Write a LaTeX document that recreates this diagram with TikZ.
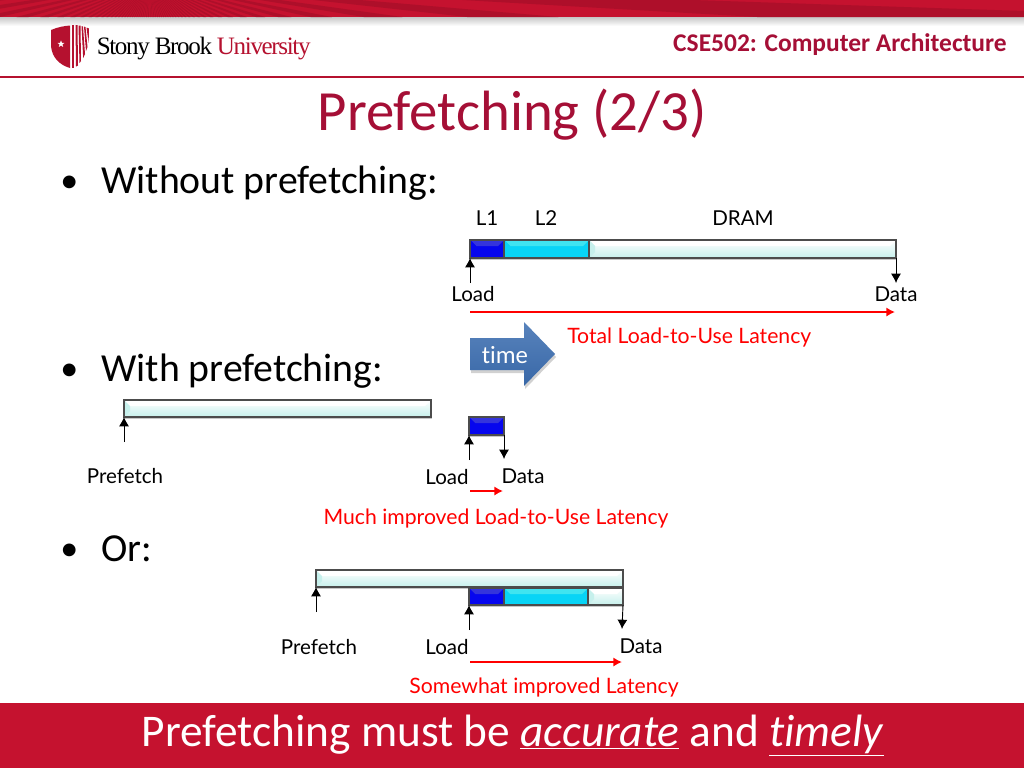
\documentclass[tikz,border=0pt]{standalone}
\usepackage{fontspec}
\setmainfont[Ligatures=CommonOff]{Carlito}
\newfontfamily\gill{Lato}
\newfontfamily\logofont{Liberation Serif}
\usetikzlibrary{arrows.meta,shapes.geometric,calc}
\definecolor{sbred}{HTML}{B5112F}
\definecolor{bandred}{HTML}{C5122F}
\definecolor{raydark}{HTML}{AE0F2A}
\definecolor{titlered}{HTML}{A50F36}
\definecolor{pale}{HTML}{C6F0EC}
\definecolor{cyanb}{HTML}{08D4F6}
\definecolor{cyant}{HTML}{3FE4F0}
\definecolor{navy}{HTML}{0606EE}
\definecolor{bluet}{HTML}{3434DC}
\definecolor{arrowblue}{HTML}{3B6DB0}
\tikzset{
  x=0.75pt,y=-0.75pt,
  barbox/.style={draw=black!70,line width=.8pt,inner sep=0pt,outer sep=0pt,anchor=north west},
  pal/.style={barbox,top color=white,bottom color=pale},
  ctwo/.style={barbox,fill=cyanb},
  cone/.style={barbox,fill=navy},
  blackarr/.style={draw=black,line width=.7pt,-{Latex[length=7pt,width=7.5pt]}},
  redarr/.style={draw=red,line width=2pt,-{Latex[length=6.5pt,width=7pt]}},
  lab/.style={font=\gill\fontsize{15.4}{18}\selectfont,text=black,inner sep=0pt},
  redlab/.style={font=\gill\fontsize{15.9}{18}\selectfont,text=red,inner sep=0pt},
  bul/.style={font=\fontsize{29.8}{34}\selectfont,text=black,inner sep=0pt,anchor=base west},
}
% name, x1, y1, x2, y2, style, bevel colour, left-triangle colour
\newcommand{\barbox}[8]{%
  \fill[black!22] (#2+1,#5) rectangle (#4+1,#5+2.4);
  \node[#6,minimum width={(#4-#2)*0.75pt},minimum height={(#5-#3)*0.75pt}] (#1) at (#2,#3) {};
  \fill[#7] (#2+.5,#3+.5) -- (#4-.5,#3+.5) -- (#4-6,#3+6) -- (#2+6,#3+6) -- cycle;
  \fill[#8] (#2+.5,#3+.5) -- (#2+6,#3+6) -- (#2+6,#5-6) -- (#2+.5,#5-.5) -- cycle;
  \draw[black!70,line width=.8pt] (#1.north west) rectangle (#1.south east);
}
\begin{document}
\begin{tikzpicture}
\useasboundingbox (0,0) rectangle (1024,768);
\fill[white] (0,0) rectangle (1024,768);
% top band
\shade[top color=black!22,bottom color=white] (0,17) rectangle (1024,26);
\fill[bandred] (0,0) rectangle (1024,17);
\begin{scope}
\clip (0,0) rectangle (1024,17);
\foreach \a in {0,3,...,174}{
  \pgfmathsetmacro{\ca}{cot(\a+1.9)}
  \pgfmathsetmacro{\cb}{cot(\a+3.3)}
  \fill[raydark] ({150+18*\ca},0) -- ({150+18*\cb},0) -- ({150+35*\cb},17) -- ({150+35*\ca},17) -- cycle;
}
\end{scope}
\draw[sbred,line width=.9pt] (0,77) -- (1024,77);
% logo
\fill[sbred] (51,30) .. controls (58,27) and (64,26) .. (70,25.5) -- (70,68) .. controls (60,65) and (52,58) .. (51,46) -- cycle;
\fill[sbred] (72,25) -- (74,25) -- (74,68) -- (72,68) -- cycle;
\fill[sbred] (75.5,25) -- (77.5,25) -- (78,65.5) -- (76,66.5) -- cycle;
\fill[sbred] (78.5,25.5) -- (80.5,25.5) -- (81,61) -- (79.5,63) -- cycle;
\fill[sbred] (81.5,26) -- (83,26.5) -- (85,54) -- (83.2,58) -- cycle;
\fill[sbred] (84,26.5) -- (85.5,27) -- (87.5,47) -- (86,51) -- cycle;
\fill[sbred] (86.5,27.5) -- (89,28.5) -- (88.6,43) -- cycle;
\node[star,star points=5,star point ratio=2.4,fill=white,inner sep=0pt,minimum size=5.5pt] (logostar) at (61,44) {};
\node[anchor=base west,inner sep=0pt,font=\logofont\fontsize{18.8}{20}\selectfont] (logotext) at (96.5,54) {\addfontfeature{LetterSpace=-5.4}Stony Brook \textcolor{sbred}{University}};
\node[anchor=base east,inner sep=0pt,font=\bfseries\fontsize{19.1}{22}\selectfont,text=titlered] (course) at (1007,51) {CSE502: Computer Architecture};
\node[anchor=base,inner sep=0pt,font=\fontsize{42.6}{48}\selectfont,text=titlered] (title) at (512,130) {Prefetching (2/3)};
% bullets
\node[bul,font=\fontsize{27}{34}\selectfont] (b1) at (60,192) {•};
\node[bul] (t1) at (101,193) {Without prefetching:};
\node[bul,font=\fontsize{27}{34}\selectfont] (b2) at (60,380) {•};
\node[bul] (t2) at (101,381) {With prefetching:};
\node[bul,font=\fontsize{27}{34}\selectfont] (b3) at (60,560) {•};
\node[bul] (t3) at (101,561) {Or:};
% row 1
\barbox{ra}{470}{240}{504}{258}{cone}{bluet}{navy}
\barbox{rb}{504}{240}{589}{258}{ctwo}{cyant}{cyanb}
\barbox{rc}{589}{240}{896}{258}{pal}{white}{pale}
\node[lab,anchor=base] (l1) at (487,225) {L1};
\node[lab,anchor=base] (l2) at (546,225) {L2};
\node[lab,anchor=base] (dram) at (743,225) {DRAM};
\node[lab,anchor=base] (load1) at (473,301) {Load};
\node[lab,anchor=base] (data1) at (896,301) {Data};
\coordinate (load1t) at (470,283);
\coordinate (data1e) at (896,283);
\draw[blackarr] (load1t) -- (ra.south west);
\draw[blackarr] (rc.south east) -- (data1e);
\coordinate (red1a) at (470,312);
\coordinate (red1b) at (895,312);
\draw[redarr] (red1a) -- (red1b);
\node[redlab,anchor=base west] (total) at (567,343) {Total Load-to-Use Latency};
% time arrow
\fill[black!18] (471,341) -- (525,341) -- (525,325) -- (556,357) -- (525,389) -- (525,373) -- (471,373) -- cycle;
\shade[top color=arrowblue!85,bottom color=arrowblue!95!black] (470,338) -- (524,338) -- (524,322) -- (555,354) -- (524,386) -- (524,370) -- (470,370) -- cycle;
\node[anchor=base,inner sep=0pt,text=white,font=\fontsize{18.6}{21}\selectfont] (time) at (505,363) {time};
% row 2
\barbox{pa}{124}{400}{431}{417}{pal}{white}{pale}
\barbox{pb}{469}{417}{504}{435}{cone}{bluet}{navy}
\node[lab,anchor=base] (pre2) at (125,483) {Prefetch};
\node[lab,anchor=base] (load2) at (447,484) {Load};
\node[lab,anchor=base] (data2) at (523,483) {Data};
\coordinate (pre2t) at (124,442);
\coordinate (load2t) at (469,460);
\coordinate (data2e) at (504,459);
\draw[blackarr] (pre2t) -- (pa.south west);
\draw[blackarr] (load2t) -- (pb.south west);
\draw[blackarr] (pb.south east) -- (data2e);
\coordinate (red2a) at (470,491);
\coordinate (red2b) at (503,491);
\draw[redarr] (red2a) -- (red2b);
\node[redlab,anchor=base] (much) at (496,524) {Much improved Load-to-Use Latency};
% row 3
\barbox{qa}{316}{570}{623}{587}{pal}{white}{pale}
\barbox{qb}{469}{588}{504}{605}{cone}{bluet}{navy}
\barbox{qc}{504}{588}{588}{605}{ctwo}{cyant}{cyanb}
\barbox{qd}{588}{588}{623}{605}{pal}{white}{pale}
\node[lab,anchor=base] (pre3) at (319,654) {Prefetch};
\node[lab,anchor=base] (load3) at (447,654) {Load};
\node[lab,anchor=base] (data3) at (641,653) {Data};
\coordinate (pre3t) at (316,612);
\coordinate (load3t) at (469,630);
\coordinate (data3e) at (622,629);
\draw[blackarr] (pre3t) -- (qa.south west);
\draw[blackarr] (load3t) -- (qb.south west);
\draw[blackarr] (qd.south east) -- (data3e);
\coordinate (red3a) at (470,662);
\coordinate (red3b) at (622,662);
\draw[redarr] (red3a) -- (red3b);
\node[redlab,anchor=base] (some) at (544,693) {Somewhat improved Latency};
% bottom band
\fill[bandred] (0,703) rectangle (1024,768);
\node[anchor=base,inner sep=0pt,text=white,font=\fontsize{34}{38}\selectfont] (concl) at (513,746) {Prefetching must be \underline{\textit{accurate}} and \underline{\textit{timely}}};
\end{tikzpicture}
\end{document}
